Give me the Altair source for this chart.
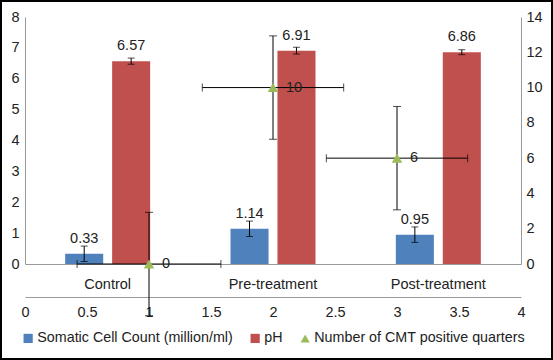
import altair as alt
import pandas as pd

# ---- data -------------------------------------------------------------
categories = ["Control", "Pre-treatment", "Post-treatment"]
scc_mean = [0.33, 1.14, 0.95]
scc_sd = [0.25, 0.25, 0.25]
ph_mean = [6.57, 6.91, 6.86]
ph_sd = [0.10, 0.11, 0.08]

cmt_pos = [1, 2, 3]
cmt_count = [0, 10, 6]
cmt_pos_err = [0.58, 0.57, 0.57]
cmt_count_err = [2.93, 2.93, 2.93]

left_ticks = [0, 1, 2, 3, 4, 5, 6, 7, 8]
right_ticks = [0, 2, 4, 6, 8, 10, 12, 14]
bottom_ticks = [0, 0.5, 1, 1.5, 2, 2.5, 3, 3.5, 4]

SCC = "Somatic Cell Count (million/ml)"
PH = "pH"
CMT = "Number of CMT positive quarters"
series_names = [SCC, PH, CMT]
series_colors = ["#4F81BD", "#C0504D", "#9BBB59"]
series_shapes = ["square", "square", "triangle-up"]

FONT = "Liberation Sans"
FS = 14.5
TEXT = "#222222"
AXIS_LINE = "#9a9a9a"

bars_df = pd.DataFrame({
    "category": categories * 2,
    "series": [SCC] * 3 + [PH] * 3,
    "value": scc_mean + ph_mean,
    "sd": scc_sd + ph_sd,
})
bars_df["lo"] = bars_df["value"] - bars_df["sd"]
bars_df["hi"] = bars_df["value"] + bars_df["sd"]
bars_df["label"] = bars_df["value"].map(lambda v: f"{v:.2f}")

cmt_df = pd.DataFrame({
    "series": [CMT] * 3,
    "pos": cmt_pos,
    "count": cmt_count,
    "pos_err": cmt_pos_err,
    "count_err": cmt_count_err,
})
cmt_df["x_lo"] = cmt_df["pos"] - cmt_df["pos_err"]
cmt_df["x_hi"] = cmt_df["pos"] + cmt_df["pos_err"]
cmt_df["y_lo"] = cmt_df["count"] - cmt_df["count_err"]
cmt_df["y_hi"] = cmt_df["count"] + cmt_df["count_err"]
cmt_df["label"] = cmt_df["count"].astype(str)

# ---- scales ---------------------------------------------------------------
cat_scale = alt.Scale(domain=categories, paddingInner=0.486, paddingOuter=0.243)
off_scale = alt.Scale(domain=[SCC, PH], paddingInner=0.19, paddingOuter=0)
left_scale = alt.Scale(domain=[0, 8], nice=False)
sec_x_scale = alt.Scale(domain=[0, 4], nice=False)
right_scale = alt.Scale(domain=[0, 14], nice=False)

legend = alt.Legend(
    title=None, orient="none", legendX=-4, legendY=314, direction="horizontal",
    labelFont=FONT, labelFontSize=14.3, labelColor=TEXT, labelOffset=2, labelLimit=400,
    symbolSize=85, symbolStrokeWidth=0, columnPadding=15,
)
color = alt.Color("series:N", scale=alt.Scale(domain=series_names, range=series_colors), legend=legend)
shape = alt.Shape("series:N", scale=alt.Scale(domain=series_names, range=series_shapes), legend=legend)

axis_style = dict(grid=False, ticks=False, domainColor=AXIS_LINE, labelFont=FONT,
                  labelFontSize=FS, labelColor=TEXT, title=None, labelOverlap=False)


def xc(axis=None):
    if axis is None:
        return alt.X("category:N", scale=cat_scale, axis=None)
    return alt.X("category:N", scale=cat_scale, axis=axis)


xo = alt.XOffset("series:N", scale=off_scale)


def yl(field, axis=None):
    if axis is None:
        return alt.Y(field, scale=left_scale, axis=None)
    return alt.Y(field, scale=left_scale, axis=axis)


def xs(field, axis=None):
    if axis is None:
        return alt.X(field, scale=sec_x_scale, axis=None)
    return alt.X(field, scale=sec_x_scale, axis=axis)


def yr(field, axis=None):
    if axis is None:
        return alt.Y(field, scale=right_scale, axis=None)
    return alt.Y(field, scale=right_scale, axis=axis)


cat_axis = alt.Axis(orient="bottom", labelAngle=0, labelPadding=13, **axis_style)
left_axis = alt.Axis(orient="left", values=left_ticks, labelPadding=6, **axis_style)
sec_x_axis = alt.Axis(orient="bottom", offset=33, values=bottom_ticks, format="~g",
                      labelPadding=8, labelFlush=False, **axis_style)
right_axis = alt.Axis(orient="right", values=right_ticks, labelPadding=5, **axis_style)

# ---- bars with error bars and value labels --------------------------------
bar_base = alt.Chart(bars_df)
bars = bar_base.mark_bar().encode(
    x=xc(cat_axis), xOffset=xo, y=yl("value:Q", left_axis), color=color,
)
bar_err = bar_base.mark_rule(color="black", strokeWidth=1).encode(
    x=xc(), xOffset=xo, y=yl("lo:Q"), y2="hi:Q",
)
bar_cap_lo = bar_base.mark_tick(color="black", size=7, thickness=1, orient="horizontal").encode(
    x=xc(), xOffset=xo, y=yl("lo:Q"),
)
bar_cap_hi = bar_base.mark_tick(color="black", size=7, thickness=1, orient="horizontal").encode(
    x=xc(), xOffset=xo, y=yl("hi:Q"),
)
bar_labels = bar_base.mark_text(font=FONT, fontSize=FS, color=TEXT, baseline="alphabetic", dy=-11).encode(
    x=xc(), xOffset=xo, y=yl("value:Q"), text="label:N",
)

# ---- CMT scatter with x/y error bars (secondary axes) -----------------------
cmt_base = alt.Chart(cmt_df)
h_err = cmt_base.mark_rule(color="black", strokeWidth=1).encode(
    x=xs("x_lo:Q"), x2="x_hi:Q", y=yr("count:Q"),
)
v_err = cmt_base.mark_rule(color="black", strokeWidth=1).encode(
    x=xs("pos:Q"), y=yr("y_lo:Q"), y2="y_hi:Q",
)
h_cap_lo = cmt_base.mark_tick(color="black", size=8, thickness=1, orient="vertical").encode(
    x=xs("x_lo:Q"), y=yr("count:Q"),
)
h_cap_hi = cmt_base.mark_tick(color="black", size=8, thickness=1, orient="vertical").encode(
    x=xs("x_hi:Q"), y=yr("count:Q"),
)
v_cap_lo = cmt_base.mark_tick(color="black", size=8, thickness=1, orient="horizontal").encode(
    x=xs("pos:Q"), y=yr("y_lo:Q"),
)
v_cap_hi = cmt_base.mark_tick(color="black", size=8, thickness=1, orient="horizontal").encode(
    x=xs("pos:Q"), y=yr("y_hi:Q"),
)
points = cmt_base.mark_point(filled=True, size=110, opacity=1).encode(
    x=xs("pos:Q", sec_x_axis), y=yr("count:Q", right_axis), color=color, shape=shape,
)
point_labels = cmt_base.mark_text(font=FONT, fontSize=FS, color=TEXT, align="left",
                                  baseline="middle", dx=13).encode(
    x=xs("pos:Q"), y=yr("count:Q"), text="label:N",
)

# ---- outer frame ---------------------------------------------------------
frame = alt.Chart(alt.Data(values=[{}])).mark_rect(
    fillOpacity=0, stroke="black", strokeWidth=2
).encode(
    x=alt.value(-24), x2=alt.value(527), y=alt.value(-16), y2=alt.value(342),
)

chart = (
    alt.layer(
        bars, bar_err, bar_cap_lo, bar_cap_hi, bar_labels,
        h_err, v_err, h_cap_lo, h_cap_hi, v_cap_lo, v_cap_hi, points, point_labels,
        frame,
    )
    .resolve_scale(x="independent", y="independent")
    .properties(
        width=496, height=247,
        padding={"left": 25, "top": 17, "right": 32, "bottom": 96},
        autosize=alt.AutoSizeParams(type="none"),
        background="white",
    )
    .configure_view(strokeWidth=0)
    .configure_axis(labelFont=FONT, labelFontSize=FS, labelColor=TEXT)
)

chart.save("out.html", embed_options={"renderer": "svg", "actions": False})
